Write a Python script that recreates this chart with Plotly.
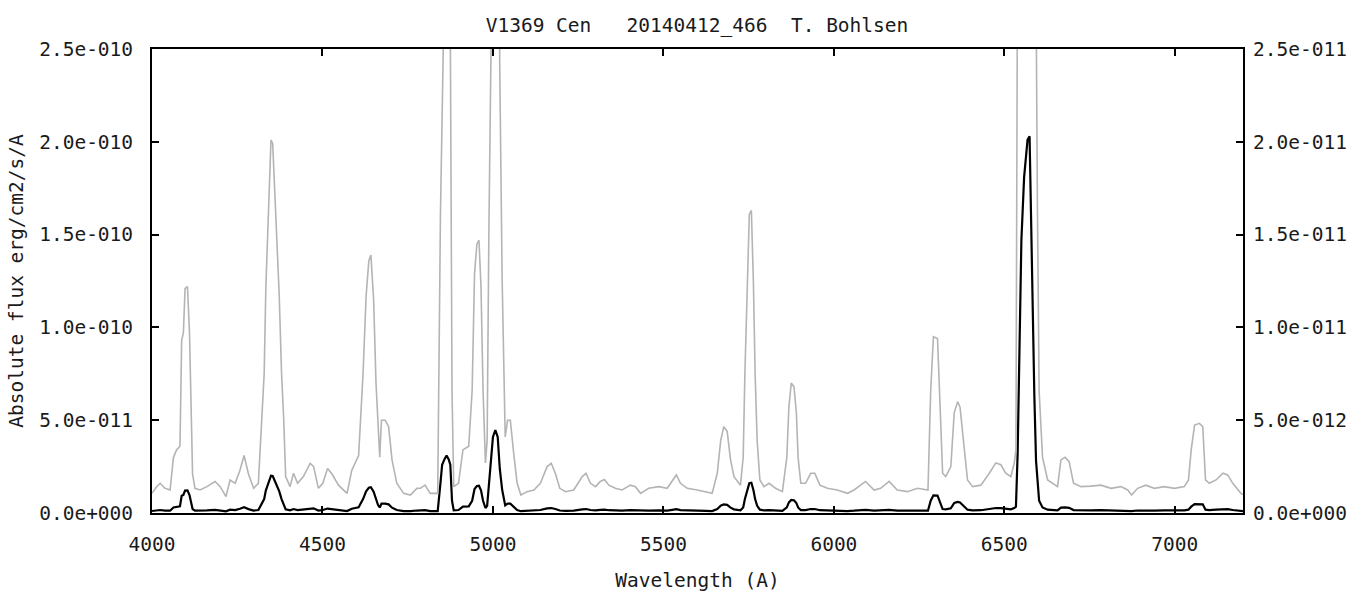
import plotly.graph_objects as go

# Wavelength (Angstrom)
wavelength = [
    4000, 4014, 4024, 4038, 4053, 4063, 4072, 4082, 4087, 4092, 4097, 4104, 4110, 4115, 4119, 4126,
    4141, 4161, 4185, 4200, 4217, 4229, 4244, 4258, 4270, 4283, 4298, 4312, 4322, 4329, 4334, 4340,
    4345, 4349, 4354, 4359, 4366, 4373, 4380, 4386, 4392, 4405, 4415, 4427, 4444, 4464, 4474, 4488,
    4501, 4515, 4528, 4547, 4572, 4586, 4606, 4619, 4628, 4636, 4642, 4650, 4657, 4663, 4668, 4673,
    4684, 4694, 4704, 4718, 4738, 4758, 4777, 4787, 4801, 4816, 4838, 4846, 4851, 4858, 4864, 4870,
    4875, 4880, 4885, 4899, 4912, 4929, 4939, 4946, 4953, 4959, 4965, 4971, 4978, 4983, 4988, 4993,
    5000, 5007, 5014, 5020, 5027, 5036, 5043, 5051, 5061, 5071, 5082, 5100, 5120, 5139, 5159, 5171,
    5183, 5196, 5213, 5237, 5262, 5273, 5286, 5301, 5315, 5327, 5340, 5359, 5379, 5403, 5418, 5433,
    5457, 5487, 5511, 5526, 5538, 5550, 5570, 5599, 5624, 5643, 5658, 5668, 5677, 5687, 5697, 5707,
    5726, 5734, 5739, 5746, 5752, 5758, 5764, 5769, 5775, 5783, 5795, 5810, 5829, 5849, 5862, 5868,
    5875, 5883, 5890, 5895, 5903, 5917, 5932, 5944, 5959, 5981, 6010, 6040, 6059, 6093, 6118, 6137,
    6162, 6186, 6216, 6245, 6276, 6284, 6292, 6304, 6312, 6319, 6328, 6343, 6353, 6363, 6370, 6380,
    6392, 6407, 6431, 6456, 6475, 6490, 6504, 6519, 6529, 6534, 6539, 6544, 6550, 6558, 6568, 6574,
    6578, 6584, 6588, 6593, 6597, 6602, 6612, 6627, 6656, 6666, 6678, 6690, 6703, 6725, 6754, 6783,
    6813, 6842, 6862, 6873, 6891, 6915, 6940, 6969, 6999, 7028, 7040, 7048, 7058, 7072, 7082, 7090,
    7101, 7121, 7141, 7155, 7170, 7185, 7194, 7200,
]

# Flux in units of 1e-12 erg/cm2/s/A
flux_e12 = [
    1.06, 1.42, 1.60, 1.33, 1.24, 3.0, 3.4, 3.6, 9.3, 9.7, 12.1, 12.2, 9.7, 5.7, 2.1, 1.33,
    1.24, 1.42, 1.70, 1.42, 0.88, 1.78, 1.60, 2.3, 3.1, 2.1, 1.33, 1.60, 5.2, 7.5, 12.2, 15.8,
    18.3, 20.1, 19.9, 17.8, 15.6, 11.8, 7.5, 5.2, 1.96, 1.42, 2.14, 1.60, 1.96, 2.68, 2.5, 1.33,
    1.60, 2.4, 2.1, 1.5, 1.06, 2.3, 3.1, 7.5, 11.7, 13.6, 13.9, 11.5, 7.0, 4.3, 3.0, 5.0,
    5.0, 4.65, 2.86, 1.60, 1.06, 0.97, 1.33, 1.33, 1.5, 1.06, 1.06, 16.0, 26.0, 29.0, 31.0, 29.0,
    26.0, 6.5, 1.42, 1.60, 3.4, 3.6, 6.6, 12.9, 14.5, 14.7, 12.2, 6.6, 2.7, 3.9, 15.0, 30.0,
    41.0, 44.7, 41.0, 24.0, 12.6, 4.1, 5.0, 5.0, 3.2, 1.60, 0.97, 1.15, 1.24, 1.60, 2.5, 2.68,
    2.14, 1.33, 1.15, 1.24, 1.96, 2.14, 1.60, 1.42, 1.70, 1.80, 1.5, 1.33, 1.24, 1.5, 1.42, 1.06,
    1.33, 1.42, 1.33, 1.70, 2.05, 1.60, 1.33, 1.24, 1.15, 1.06, 2.14, 3.9, 4.65, 4.4, 2.86, 1.96,
    1.5, 3.0, 7.5, 12.2, 16.1, 16.3, 12.4, 7.5, 3.9, 1.78, 1.42, 1.60, 1.33, 1.15, 3.0, 5.7,
    7.0, 6.8, 5.4, 3.0, 1.60, 1.60, 2.14, 2.14, 1.5, 1.33, 1.24, 1.06, 1.24, 1.70, 1.24, 1.33,
    1.70, 1.24, 1.15, 1.33, 1.24, 6.6, 9.5, 9.4, 5.7, 2.14, 1.96, 2.5, 5.4, 6.0, 5.7, 3.9,
    1.78, 1.42, 1.5, 2.14, 2.7, 2.6, 2.14, 1.96, 2.68, 3.4, 32.0, 93.0, 147.0, 181.0, 201.0, 203.0,
    156.0, 111.0, 63.0, 28.0, 16.6, 6.6, 3.0, 1.78, 1.42, 2.86, 3.0, 2.77, 1.60, 1.42, 1.45, 1.5,
    1.33, 1.42, 1.24, 0.97, 1.33, 1.5, 1.33, 1.42, 1.33, 1.42, 1.78, 3.4, 4.74, 4.83, 4.65, 1.78,
    1.60, 1.78, 2.14, 2.05, 1.60, 1.24, 1.06, 1.0,
]

flux = [v * 1e-12 for v in flux_e12]

left_ticks = [0, 5e-11, 1e-10, 1.5e-10, 2e-10, 2.5e-10]
left_labels = ["0.0e+000", "5.0e-011", "1.0e-010", "1.5e-010", "2.0e-010", "2.5e-010"]
right_ticks = [0, 5e-12, 1e-11, 1.5e-11, 2e-11, 2.5e-11]
right_labels = ["0.0e+000", "5.0e-012", "1.0e-011", "1.5e-011", "2.0e-011", "2.5e-011"]
x_ticks = [4000, 4500, 5000, 5500, 6000, 6500, 7000]

FONT = "DejaVu Sans Mono"
TXT = "#1a1a1a"
FS = 19.5

fig = go.Figure()
fig.add_trace(go.Scatter(x=wavelength, y=flux, mode="lines", yaxis="y2",
                         line=dict(color="#b4b4b4", width=1.6), showlegend=False,
                         hoverinfo="skip"))
fig.add_trace(go.Scatter(x=wavelength, y=flux, mode="lines", yaxis="y",
                         line=dict(color="#000000", width=2.2), showlegend=False))

fig.update_layout(
    width=1364, height=592,
    margin=dict(l=152, r=121, t=49, b=79, autoexpand=False),
    paper_bgcolor="white", plot_bgcolor="white",
    font=dict(family=FONT, size=FS, color=TXT),
    title=dict(text="V1369 Cen   20140412_466  T. Bohlsen", x=0.511, xanchor="center",
               y=1 - 25 / 592, yanchor="middle", automargin=False,
               font=dict(family=FONT, size=FS, color=TXT)),
    xaxis=dict(range=[4000, 7200], tickvals=x_ticks, ticktext=[str(t) for t in x_ticks],
               showgrid=False, zeroline=False, showline=True, linecolor="black", linewidth=2,
               mirror="ticks", ticks="inside", ticklen=7, tickwidth=2, tickcolor="black",
               ticklabelstandoff=13, automargin=False,
               title=dict(text="Wavelength (A)", standoff=18, font=dict(family=FONT, size=FS, color=TXT))),
    yaxis=dict(range=[0, 2.5e-10], tickvals=left_ticks, ticktext=left_labels,
               showgrid=False, zeroline=False, showline=True, linecolor="black", linewidth=2,
               mirror=True, ticks="inside", ticklen=7, tickwidth=2, tickcolor="black",
               ticklabelstandoff=13, automargin=False,
               title=dict(text="Absolute flux erg/cm2/s/A", standoff=10,
                          font=dict(family=FONT, size=FS, color=TXT))),
    yaxis2=dict(range=[0, 2.5e-11], tickvals=right_ticks, ticktext=right_labels,
                overlaying="y", side="right", showgrid=False, zeroline=False, showline=False,
                ticks="inside", ticklen=7, tickwidth=2, tickcolor="black",
                ticklabelstandoff=9, automargin=False),
)

fig.write_html("out.html")
